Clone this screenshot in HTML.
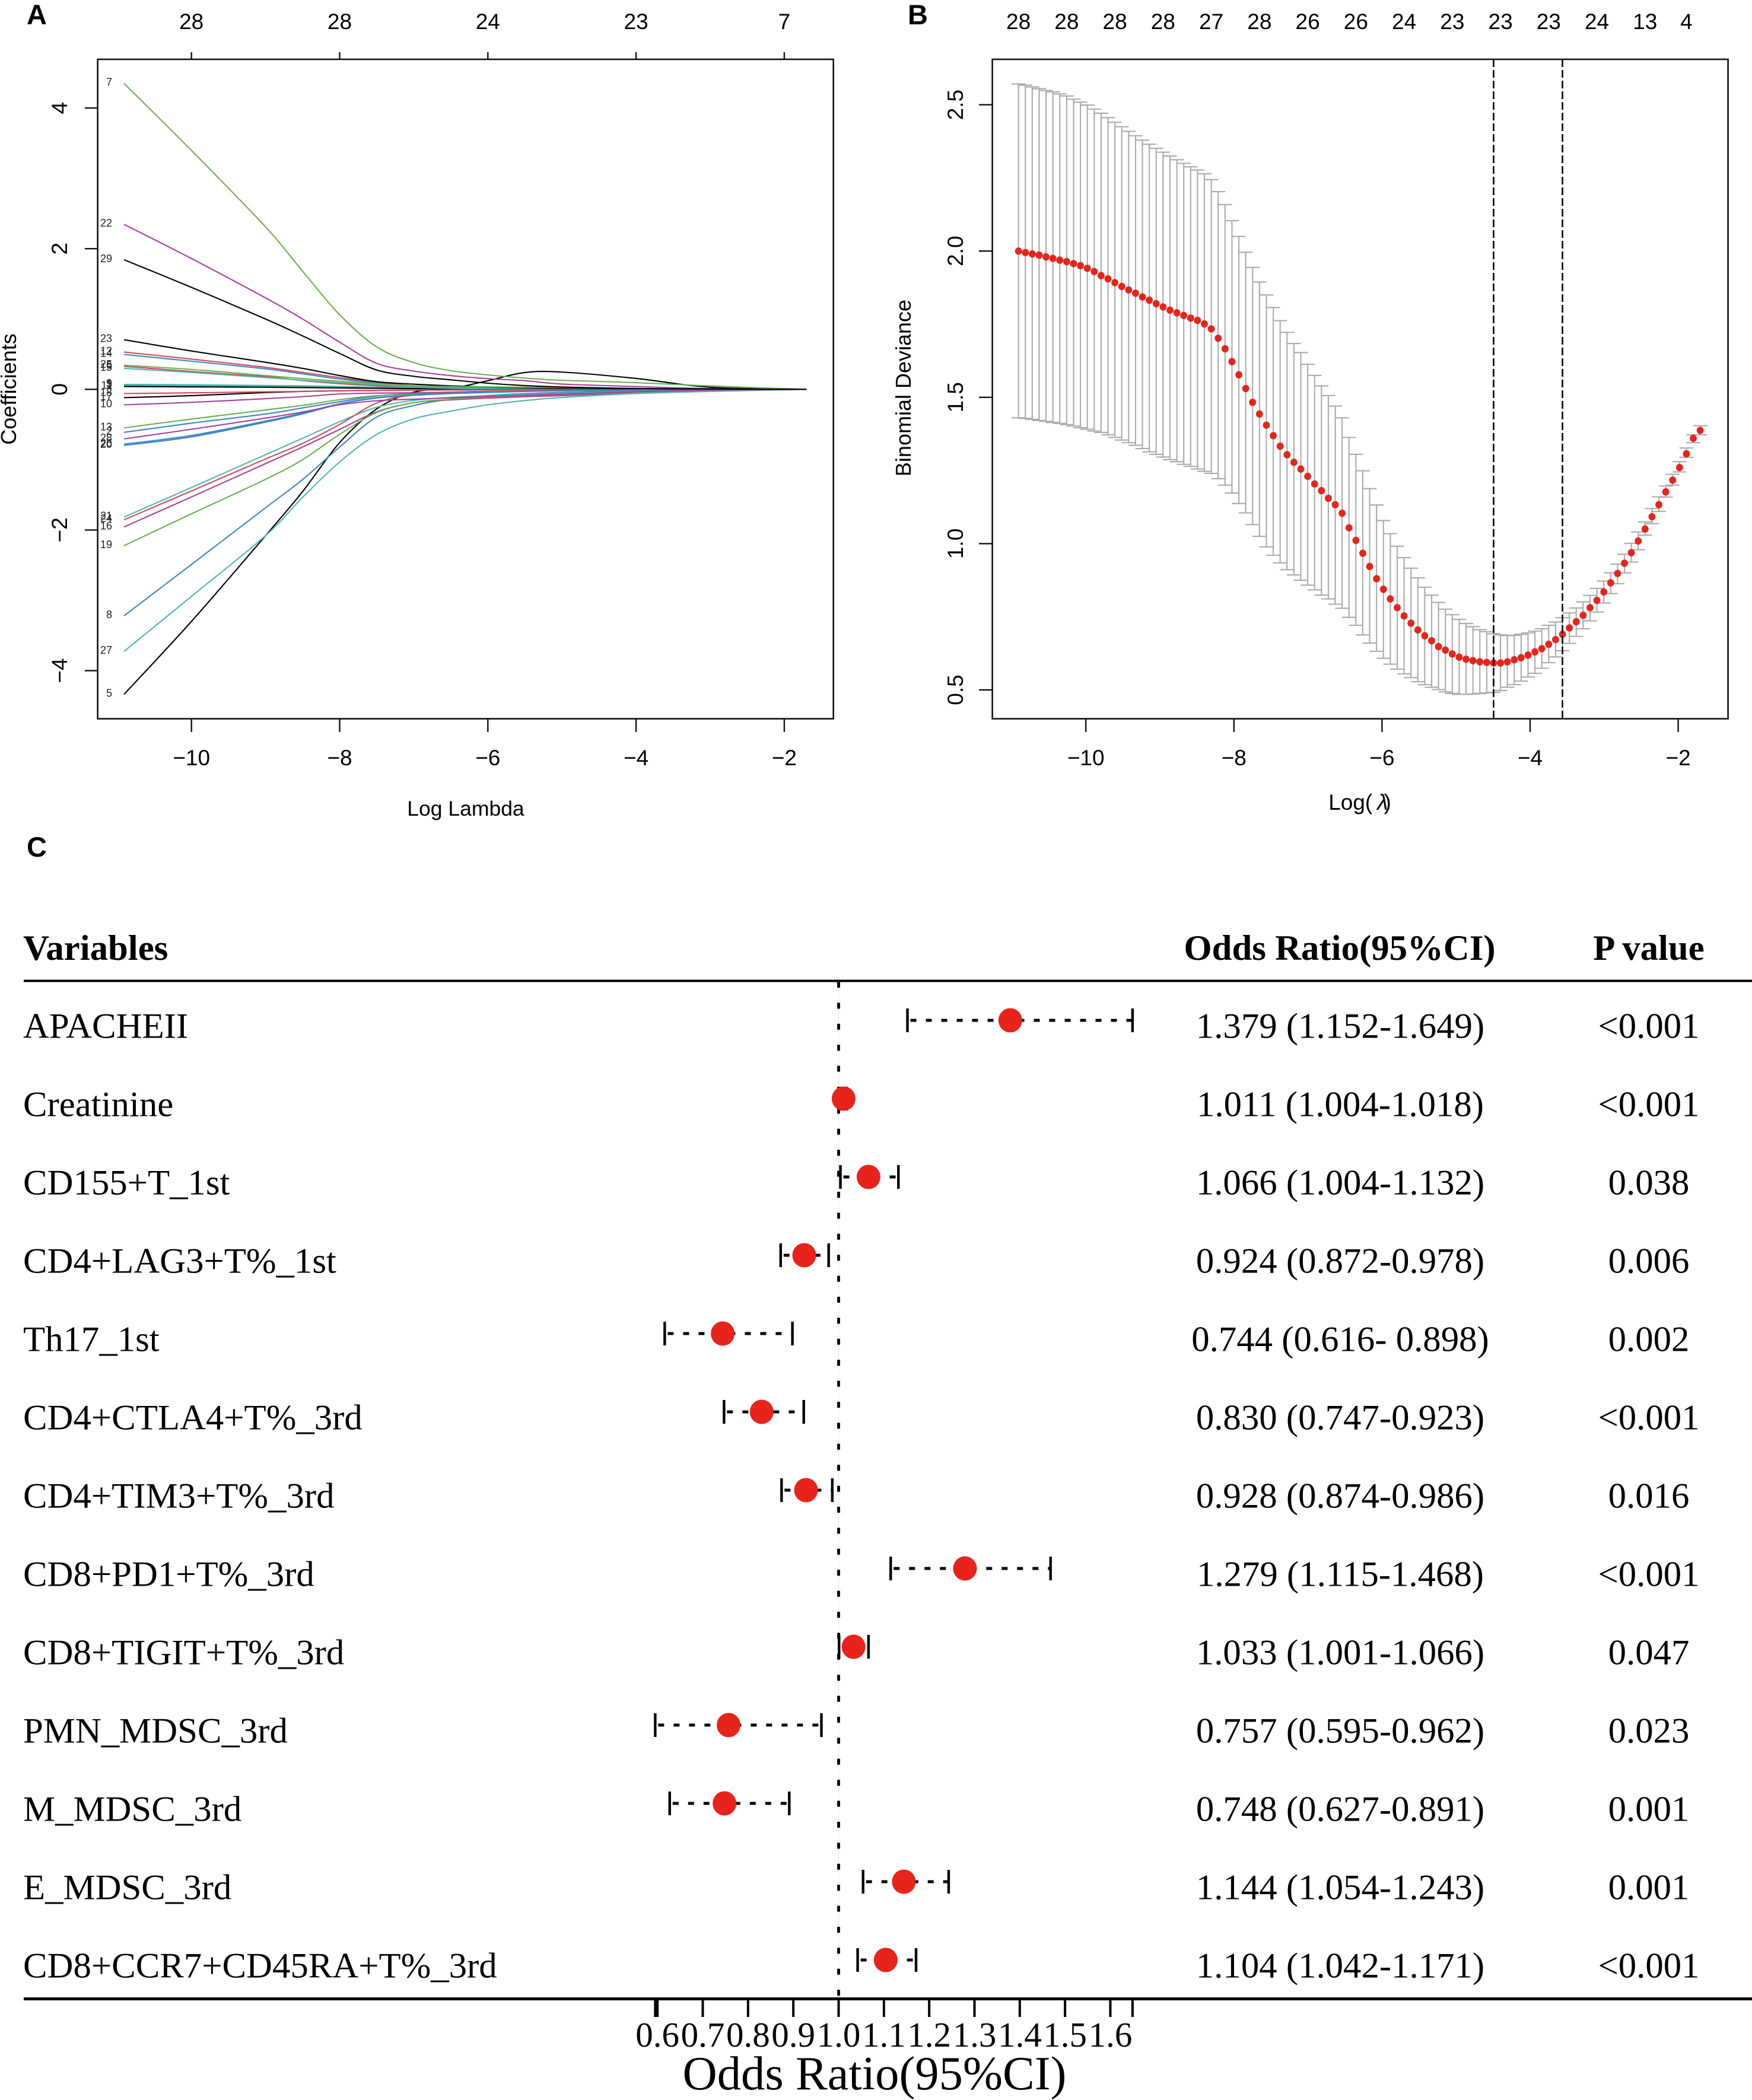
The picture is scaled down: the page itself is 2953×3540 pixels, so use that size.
<!DOCTYPE html>
<html lang="en">
<head>
<meta charset="utf-8">
<title>LASSO regression and forest plot</title>
<style>
html,body{margin:0;padding:0;background:#fff;}
svg{display:block;}
.sans{font-family:"Liberation Sans",sans-serif;fill:#000;}
.serif{font-family:"Liberation Serif",serif;fill:#000;}
.tick{font-size:37px;}
.axis-title{font-size:35.5px;}
.letter{font-size:47px;font-weight:bold;}
.hdr{font-size:60.8px;font-weight:bold;}
.row{font-size:60.8px;}
</style>
</head>
<body>
<svg id="fig" xmlns="http://www.w3.org/2000/svg" width="2953" height="3540" viewBox="0 0 2953 3540">
<rect x="0" y="0" width="2953" height="3540" fill="#fff"/>

<text class="sans letter" x="45" y="41">A</text>
<text class="sans letter" x="1530" y="41">B</text>
<text class="sans letter" x="45" y="1444">C</text>

<g id="panelA">
  <text class="sans" font-size="36" text-anchor="middle" transform="translate(27 656) rotate(-90)">Coefficients</text>
  <text class="sans axis-title" text-anchor="middle" x="785" y="1375">Log Lambda</text>
</g>
<g id="panelB">
  <text class="sans" font-size="36" text-anchor="middle" transform="translate(1535 654) rotate(-90)">Binomial Deviance</text>
  <text class="sans" font-size="37" text-anchor="middle" x="2292" y="1365">Log(<tspan font-style="italic" dx="8">λ</tspan><tspan dx="-7">)</tspan></text>
</g>

<g id="panelC">
  <text class="serif hdr" x="39" y="1618">Variables</text>
  <text class="serif hdr" text-anchor="middle" x="2258" y="1618">Odds Ratio(95%CI)</text>
  <text class="serif hdr" text-anchor="middle" x="2779" y="1618">P value</text>
  <rect x="40" y="1651.5" width="2913" height="4" fill="#000"/>
  <rect x="40" y="3367" width="2913" height="5" fill="#000"/>

  <g class="serif row">
    <text x="39" y="1749.5">APACHEII</text>
    <text x="39" y="1881.5">Creatinine</text>
    <text x="39" y="2013.5">CD155+T_1st</text>
    <text x="39" y="2145.5">CD4+LAG3+T%_1st</text>
    <text x="39" y="2277.5">Th17_1st</text>
    <text x="39" y="2409.5">CD4+CTLA4+T%_3rd</text>
    <text x="39" y="2541.5">CD4+TIM3+T%_3rd</text>
    <text x="39" y="2673.5">CD8+PD1+T%_3rd</text>
    <text x="39" y="2805.5">CD8+TIGIT+T%_3rd</text>
    <text x="39" y="2937.5">PMN_MDSC_3rd</text>
    <text x="39" y="3069.5">M_MDSC_3rd</text>
    <text x="39" y="3201.5">E_MDSC_3rd</text>
    <text x="39" y="3333.5">CD8+CCR7+CD45RA+T%_3rd</text>
  </g>
  <g class="serif row" text-anchor="middle">
    <text x="2259" y="1749.5">1.379 (1.152-1.649)</text>
    <text x="2259" y="1881.5">1.011 (1.004-1.018)</text>
    <text x="2259" y="2013.5">1.066 (1.004-1.132)</text>
    <text x="2259" y="2145.5">0.924 (0.872-0.978)</text>
    <text x="2259" y="2277.5">0.744 (0.616- 0.898)</text>
    <text x="2259" y="2409.5">0.830 (0.747-0.923)</text>
    <text x="2259" y="2541.5">0.928 (0.874-0.986)</text>
    <text x="2259" y="2673.5">1.279 (1.115-1.468)</text>
    <text x="2259" y="2805.5">1.033 (1.001-1.066)</text>
    <text x="2259" y="2937.5">0.757 (0.595-0.962)</text>
    <text x="2259" y="3069.5">0.748 (0.627-0.891)</text>
    <text x="2259" y="3201.5">1.144 (1.054-1.243)</text>
    <text x="2259" y="3333.5">1.104 (1.042-1.171)</text>
  </g>
  <g class="serif row" text-anchor="middle">
    <text x="2779" y="1749.5">&lt;0.001</text>
    <text x="2779" y="1881.5">&lt;0.001</text>
    <text x="2779" y="2013.5">0.038</text>
    <text x="2779" y="2145.5">0.006</text>
    <text x="2779" y="2277.5">0.002</text>
    <text x="2779" y="2409.5">&lt;0.001</text>
    <text x="2779" y="2541.5">0.016</text>
    <text x="2779" y="2673.5">&lt;0.001</text>
    <text x="2779" y="2805.5">0.047</text>
    <text x="2779" y="2937.5">0.023</text>
    <text x="2779" y="3069.5">0.001</text>
    <text x="2779" y="3201.5">0.001</text>
    <text x="2779" y="3333.5">&lt;0.001</text>
  </g>
  <text class="serif" font-size="80.6" text-anchor="middle" x="1474" y="3522">Odds Ratio(95%CI)</text>
</g>
</svg>

<script>
/* ---------- Panel A data ---------- */
const aXTicks = [-10, -8, -6, -4, -2];
const aYTicks = [-4, -2, 0, 2, 4];
const aTopLabels = ['28', '28', '24', '23', '7'];
const aKnots = [-10.91, -10, -9, -8.5, -8, -7.5, -7, -6.5, -6, -5.5, -5, -4, -3, -1.7];
const coefLabels = ['1','2','3','5','6','7','8','9','10','11','12','13','14','15','16','17','18','19','20','21','22','23','24','25','26','27','28','29'];
const coefColors = ['green','blue','teal','black','red','green','blue','teal','magenta','black','red','green','blue','teal','magenta','black','red','green','blue','teal','magenta','black','red','green','blue','teal','magenta','black'];
const coef1  = [.05,.05,.045,.04,.035,.03,.025,.02,.015,.012,.01,.005,.002,0];
const coef2  = [-.612,-.481,-.351,-.264,-.176,-.095,-.06,-.04,-.03,-.02,-.014,-.006,-.002,0];
const coef3  = [.06,.055,.05,.045,.035,.025,.018,.012,.008,.006,.004,.002,.001,0];
const coef5  = [-4.338,-3.30,-2.08,-1.454,-.757,-.278,-.04,.01,.123,.239,.245,.155,.03,0];
const coef6  = [.327,.254,.18,.124,.08,.05,.02,.01,.006,.004,.003,.002,.001,0];
const coef7  = [4.35,3.397,2.31,1.68,1.06,.603,.38,.265,.205,.16,.128,.095,.047,0];
const coef8  = [-3.22,-2.49,-1.684,-1.283,-.82,-.394,-.23,-.138,-.088,-.06,-.045,-.02,-.008,0];
const coef9  = [.07,.065,.055,.05,.04,.03,.02,.012,.008,.006,.004,.002,.001,0];
const coef10 = [-.22,-.185,-.133,-.104,-.066,-.054,-.05,-.04,-.03,-.025,-.02,-.01,-.004,0];
const coef11 = [.04,.035,.03,.025,.02,.015,.01,.008,.006,.004,.003,.001,0,0];
const coef12 = [.53,.43,.313,.24,.167,.10,.05,.03,.02,.015,.012,.006,.002,0];
const coef13 = [-.548,-.423,-.293,-.229,-.147,-.09,-.066,-.05,-.035,-.025,-.018,-.008,-.003,0];
const coef14 = [.496,.40,.292,.22,.147,.09,.04,.025,.015,.01,.007,.003,.001,0];
const coef15 = [.298,.24,.167,.13,.095,.066,.03,.015,.008,.005,.003,.001,0,0];
const coef16 = [-1.957,-1.53,-1.056,-.82,-.57,-.32,-.19,-.15,-.125,-.105,-.09,-.05,-.02,0];
const coef17 = [-.118,-.09,-.046,-.03,-.02,-.015,-.01,-.008,-.006,-.005,-.004,-.002,-.001,0];
const coef18 = [-.06,-.05,-.035,-.03,-.02,-.015,-.012,-.01,-.008,-.006,-.004,-.002,-.001,0];
const coef19 = [-2.224,-1.77,-1.28,-1.0,-.64,-.33,-.19,-.14,-.11,-.09,-.075,-.04,-.015,0];
const coef20 = [-.798,-.676,-.467,-.35,-.21,-.124,-.085,-.06,-.045,-.03,-.022,-.009,-.003,0];
const coef21 = [-1.817,-1.396,-.929,-.696,-.461,-.255,-.158,-.115,-.09,-.07,-.06,-.03,-.012,0];
const coef22 = [2.346,1.86,1.30,1.0,.67,.37,.26,.195,.152,.123,.075,.04,.01,0];
const coef23 = [.705,.545,.385,.298,.196,.109,.074,.05,.033,.022,.015,.008,.003,0];
const coef24 = [-1.855,-1.445,-.99,-.769,-.50,-.194,-.079,-.05,-.035,-.025,-.02,-.01,-.004,0];
const coef25 = [.342,.283,.196,.153,.115,.08,.05,.04,.035,.03,.025,.012,.004,0];
const coef26 = [-.78,-.656,-.452,-.336,-.205,-.118,-.08,-.055,-.04,-.028,-.02,-.008,-.003,0];
const coef27 = [-3.726,-2.944,-2.08,-1.536,-1.033,-.641,-.42,-.31,-.22,-.16,-.115,-.06,-.03,0];
const coef28 = [-.705,-.568,-.409,-.322,-.22,-.162,-.14,-.12,-.1,-.085,-.07,-.035,-.012,0];
const coef29 = [1.843,1.45,1.0,.76,.51,.275,.185,.135,.087,.053,.033,.012,.005,0];
const coefSeries = [coef1,coef2,coef3,coef5,coef6,coef7,coef8,coef9,coef10,coef11,coef12,coef13,coef14,coef15,coef16,coef17,coef18,coef19,coef20,coef21,coef22,coef23,coef24,coef25,coef26,coef27,coef28,coef29];

/* ---------- Panel B data ---------- */
const bXTicks = [-10, -8, -6, -4, -2];
const bYTicks = [0.5, 1.0, 1.5, 2.0, 2.5];
const bYTickLabels = ['0.5', '1.0', '1.5', '2.0', '2.5'];
const bTopLabels = ['28','28','28','28','27','28','26','26','24','23','23','23','24','13','4'];
const bTopAt = [-10.91,-10.259,-9.608,-8.957,-8.306,-7.655,-7.004,-6.353,-5.702,-5.051,-4.400,-3.749,-3.098,-2.447,-1.889];
const lambdaLines = [-4.493, -3.563];
const logLambda = [
-10.910,-10.817,-10.724,-10.631,-10.538,-10.445,-10.352,-10.259,-10.166,-10.073,
-9.980,-9.887,-9.794,-9.701,-9.608,-9.515,-9.422,-9.329,-9.236,-9.143,
-9.050,-8.957,-8.864,-8.771,-8.678,-8.585,-8.492,-8.399,-8.306,-8.213,
-8.120,-8.027,-7.934,-7.841,-7.748,-7.655,-7.562,-7.469,-7.376,-7.283,
-7.190,-7.097,-7.004,-6.911,-6.818,-6.725,-6.632,-6.539,-6.446,-6.353,
-6.260,-6.167,-6.074,-5.981,-5.888,-5.795,-5.702,-5.609,-5.516,-5.423,
-5.330,-5.237,-5.144,-5.051,-4.958,-4.865,-4.772,-4.679,-4.586,-4.493,
-4.400,-4.307,-4.214,-4.121,-4.028,-3.935,-3.842,-3.749,-3.656,-3.563,
-3.470,-3.377,-3.284,-3.191,-3.098,-3.005,-2.912,-2.819,-2.726,-2.633,
-2.540,-2.447,-2.354,-2.261,-2.168,-2.075,-1.982,-1.889,-1.796,-1.703];
const cvMean = [
2.000,1.995,1.990,1.986,1.980,1.975,1.969,1.964,1.957,1.950,
1.941,1.930,1.916,1.905,1.892,1.879,1.867,1.856,1.843,1.832,
1.820,1.809,1.798,1.789,1.780,1.771,1.763,1.751,1.734,1.702,
1.666,1.622,1.577,1.530,1.483,1.443,1.405,1.369,1.333,1.304,
1.278,1.255,1.230,1.204,1.181,1.155,1.133,1.104,1.054,1.011,
.967,.922,.880,.844,.811,.781,.753,.728,.705,.685,
.668,.648,.636,.623,.612,.605,.600,.596,.594,.592,
.592,.596,.603,.610,.619,.630,.641,.656,.672,.690,
.712,.733,.755,.781,.806,.835,.866,.898,.933,.969,
1.009,1.050,1.092,1.133,1.177,1.217,1.260,1.307,1.360,1.387];
const cvUpper = [
2.571,2.567,2.561,2.555,2.549,2.544,2.537,2.530,2.519,2.509,
2.499,2.485,2.471,2.456,2.440,2.425,2.409,2.394,2.379,2.365,
2.351,2.338,2.325,2.312,2.300,2.288,2.277,2.264,2.244,2.203,
2.159,2.104,2.050,1.996,1.944,1.894,1.850,1.807,1.762,1.722,
1.684,1.653,1.613,1.575,1.539,1.506,1.470,1.430,1.363,1.305,
1.249,1.188,1.132,1.079,1.034,.991,.952,.916,.883,.851,
.824,.799,.776,.757,.741,.727,.716,.706,.699,.692,
.688,.686,.687,.690,.695,.701,.709,.721,.732,.747,
.763,.780,.801,.823,.847,.872,.900,.930,.964,1.001,
1.040,1.074,1.120,1.160,1.197,1.237,1.280,1.327,1.372,1.403];
const cvLower = [
1.430,1.428,1.425,1.421,1.418,1.414,1.411,1.407,1.402,1.396,
1.391,1.385,1.380,1.372,1.363,1.354,1.345,1.336,1.325,1.314,
1.305,1.296,1.287,1.280,1.271,1.264,1.255,1.247,1.240,1.222,
1.200,1.173,1.137,1.105,1.065,1.025,.989,.960,.934,.911,
.893,.875,.858,.842,.824,.811,.793,.779,.748,.721,
.688,.660,.632,.608,.588,.571,.555,.542,.528,.518,
.509,.501,.493,.488,.485,.485,.486,.488,.490,.492,
.498,.509,.518,.530,.544,.557,.574,.593,.613,.634,
.659,.683,.709,.736,.766,.797,.829,.863,.900,.937,
.979,1.029,1.068,1.110,1.159,1.200,1.245,1.295,1.345,1.372];

/* ---------- Panel C data ---------- */
const forestNames = ['APACHEII','Creatinine','CD155+T_1st','CD4+LAG3+T%_1st','Th17_1st','CD4+CTLA4+T%_3rd','CD4+TIM3+T%_3rd','CD8+PD1+T%_3rd','CD8+TIGIT+T%_3rd','PMN_MDSC_3rd','M_MDSC_3rd','E_MDSC_3rd','CD8+CCR7+CD45RA+T%_3rd'];
const forestOR = [1.379,1.011,1.066,0.924,0.744,0.830,0.928,1.279,1.033,0.757,0.748,1.144,1.104];
const forestLow = [1.152,1.004,1.004,0.872,0.616,0.747,0.874,1.115,1.001,0.595,0.627,1.054,1.042];
const forestHigh = [1.649,1.018,1.132,0.978,0.898,0.923,0.986,1.468,1.066,0.962,0.891,1.243,1.171];
const forestTicks = [0.595,0.6,0.7,0.8,0.9,1.0,1.1,1.2,1.3,1.4,1.5,1.6,1.649];
const forestTickLabels = ['0.6','0.7','0.8','0.9','1.0','1.1','1.2','1.3','1.4','1.5','1.6'];
const forestLabelValues = [0.6,0.7,0.8,0.9,1.0,1.1,1.2,1.3,1.4,1.5,1.6];
const referenceOR = 1.0;

/* ---------- scales ---------- */
const aX = v => 322.7 + (v + 10) * 124.9;
const aY = v => 656.3 - v * 118.55;
const bX = v => 2579 + (v + 4) * 124.8;
const bY = v => 423.2 - (v - 2) * 493.2;
const fX = v => 1413.5 + (v - 1) * 763.3;
const fRow = i => 1720 + i * 132;

const NS = 'http://www.w3.org/2000/svg';
const palette = {black:'#000000', red:'#cf4b5b', green:'#6ab04d', blue:'#3c85c6', teal:'#4db6b2', magenta:'#a5409a'};
function mk(parent, tag, attrs, text) {
  const el = document.createElementNS(NS, tag);
  for (const k in attrs) el.setAttribute(k, attrs[k]);
  if (text !== undefined) el.textContent = text;
  parent.appendChild(el);
  return el;
}
function smoothPath(pts) {
  let d = 'M' + pts[0][0].toFixed(2) + ' ' + pts[0][1].toFixed(2);
  for (let i = 0; i < pts.length - 1; i++) {
    const p0 = pts[Math.max(i - 1, 0)], p1 = pts[i], p2 = pts[i + 1], p3 = pts[Math.min(i + 2, pts.length - 1)];
    const c1x = p1[0] + (p2[0] - p0[0]) / 6, c1y = p1[1] + (p2[1] - p0[1]) / 6;
    const c2x = p2[0] - (p3[0] - p1[0]) / 6, c2y = p2[1] - (p3[1] - p1[1]) / 6;
    d += 'C' + [c1x, c1y, c2x, c2y, p2[0], p2[1]].map(n => n.toFixed(2)).join(' ');
  }
  return d;
}

const panelA = document.getElementById('panelA');
const panelB = document.getElementById('panelB');
const panelC = document.getElementById('panelC');

/* ---------- Panel A ---------- */
coefSeries.forEach((vals, s) => {
  const pts = vals.map((v, i) => [aX(aKnots[i]), aY(v)]);
  const line = mk(panelA, 'path', {d: smoothPath(pts), fill: 'none', stroke: palette[coefColors[s]], 'stroke-width': 2.1});
  
  
  const lab = mk(panelA, 'text', {x: 189, y: aY(vals[0]) + 4, 'text-anchor': 'end', 'font-size': 18, fill: '#222', 'font-family': '"Liberation Sans",sans-serif'}, coefLabels[s]);
  
  
});
const boxA = mk(panelA, 'rect', {x: 164.6, y: 100, width: 1240.1, height: 1111.6, fill: 'none', stroke: '#111', 'stroke-width': 2.6});


aXTicks.forEach((v, i) => {
  const t = mk(panelA, 'line', {x1: aX(v), x2: aX(v), y1: 1211.6, y2: 1234, stroke: '#111', 'stroke-width': 2.4});
  
  
  const t2 = mk(panelA, 'line', {x1: aX(v), x2: aX(v), y1: 100, y2: 88, stroke: '#111', 'stroke-width': 2.4});
  
  
  const l = mk(panelA, 'text', {x: aX(v), y: 1290, 'text-anchor': 'middle', class: 'sans tick'}, String(v).replace('-', '\u2212'));
  
  
  const l2 = mk(panelA, 'text', {x: aX(v), y: 49, 'text-anchor': 'middle', class: 'sans tick'}, aTopLabels[i]);
  
  
});
aYTicks.forEach(v => {
  const t = mk(panelA, 'line', {x1: 143, x2: 164.6, y1: aY(v), y2: aY(v), stroke: '#111', 'stroke-width': 2.4});
  
  
  const l = mk(panelA, 'text', {transform: 'translate(113 ' + aY(v) + ') rotate(-90)', 'text-anchor': 'middle', class: 'sans tick'}, String(v).replace('-', '\u2212'));
  
  
});

/* ---------- Panel B ---------- */
logLambda.forEach((x, i) => {
  const px = bX(x);
  const g = mk(panelB, 'path', {
    d: 'M' + px + ' ' + bY(cvUpper[i]) + 'V' + bY(cvLower[i]) +
       'M' + (px - 11.8) + ' ' + bY(cvUpper[i]) + 'H' + (px + 11.8) +
       'M' + (px - 11.8) + ' ' + bY(cvLower[i]) + 'H' + (px + 11.8),
    fill: 'none', stroke: '#ababab', 'stroke-width': 2.1});
  
  
});
logLambda.forEach((x, i) => {
  const c = mk(panelB, 'ellipse', {cx: bX(x), cy: bY(cvMean[i]), rx: 5.9, ry: 6.2, fill: '#e8231b'});
  
  
});
lambdaLines.forEach(v => {
  const d = mk(panelB, 'line', {x1: bX(v), x2: bX(v), y1: 100, y2: 1211.6, stroke: '#000', 'stroke-width': 2.6, 'stroke-dasharray': '13 5'});
  
  
});
const boxB = mk(panelB, 'rect', {x: 1672.6, y: 100, width: 1240, height: 1111.6, fill: 'none', stroke: '#111', 'stroke-width': 2.6});


bXTicks.forEach(v => {
  const t = mk(panelB, 'line', {x1: bX(v), x2: bX(v), y1: 1211.6, y2: 1234, stroke: '#111', 'stroke-width': 2.4});
  
  
  const l = mk(panelB, 'text', {x: bX(v), y: 1290, 'text-anchor': 'middle', class: 'sans tick'}, String(v).replace('-', '\u2212'));
  
  
});
bYTicks.forEach((v, i) => {
  const t = mk(panelB, 'line', {x1: 1650, x2: 1672.6, y1: bY(v), y2: bY(v), stroke: '#111', 'stroke-width': 2.4});
  
  
  const l = mk(panelB, 'text', {transform: 'translate(1623 ' + bY(v) + ') rotate(-90)', 'text-anchor': 'middle', class: 'sans tick'}, bYTickLabels[i]);
  
  
});
bTopLabels.forEach((s, i) => {
  const l = mk(panelB, 'text', {x: bX(bTopAt[i]), y: 49, 'text-anchor': 'middle', class: 'sans tick'}, s);
  
  
});

/* ---------- Panel C ---------- */
const refFaint = mk(panelC, 'line', {x1: fX(referenceOR), x2: fX(referenceOR), y1: 1654, y2: 3367, stroke: '#e6e6e6', 'stroke-width': 1});


const refLine = mk(panelC, 'line', {x1: fX(referenceOR), x2: fX(referenceOR), y1: 1655, y2: 3367, stroke: '#000', 'stroke-width': 4.8, 'stroke-dasharray': '10 25.4'});


forestNames.forEach((name, i) => {
  const y = fRow(i);
  const dash = mk(panelC, 'line', {x1: fX(forestLow[i]), x2: fX(forestHigh[i]), y1: y, y2: y, stroke: '#000', 'stroke-width': 5, 'stroke-dasharray': '10 16', 'stroke-dashoffset': -5});
  
  
  const capL = mk(panelC, 'line', {x1: fX(forestLow[i]), x2: fX(forestLow[i]), y1: y - 20, y2: y + 20, stroke: '#000', 'stroke-width': 4.4});
  
  
  const capH = mk(panelC, 'line', {x1: fX(forestHigh[i]), x2: fX(forestHigh[i]), y1: y - 20, y2: y + 20, stroke: '#000', 'stroke-width': 4.4});
  
  
  const dot = mk(panelC, 'ellipse', {cx: fX(forestOR[i]), cy: y, rx: 20, ry: 20.5, fill: '#e8231b'});
  
  
  dot.setAttribute('aria-label', name);
});
forestTicks.forEach((v, i) => {
  const t = mk(panelC, 'line', {x1: fX(v), x2: fX(v), y1: 3369, y2: 3400, stroke: '#000', 'stroke-width': 4});
  
  
});
forestTickLabels.forEach((s, i) => {
  const l = mk(panelC, 'text', {x: fX(forestLabelValues[i]), y: 3450, 'text-anchor': 'middle', 'font-size': 59, class: 'serif'}, s);
  
  
});
</script>
</body>
</html>
